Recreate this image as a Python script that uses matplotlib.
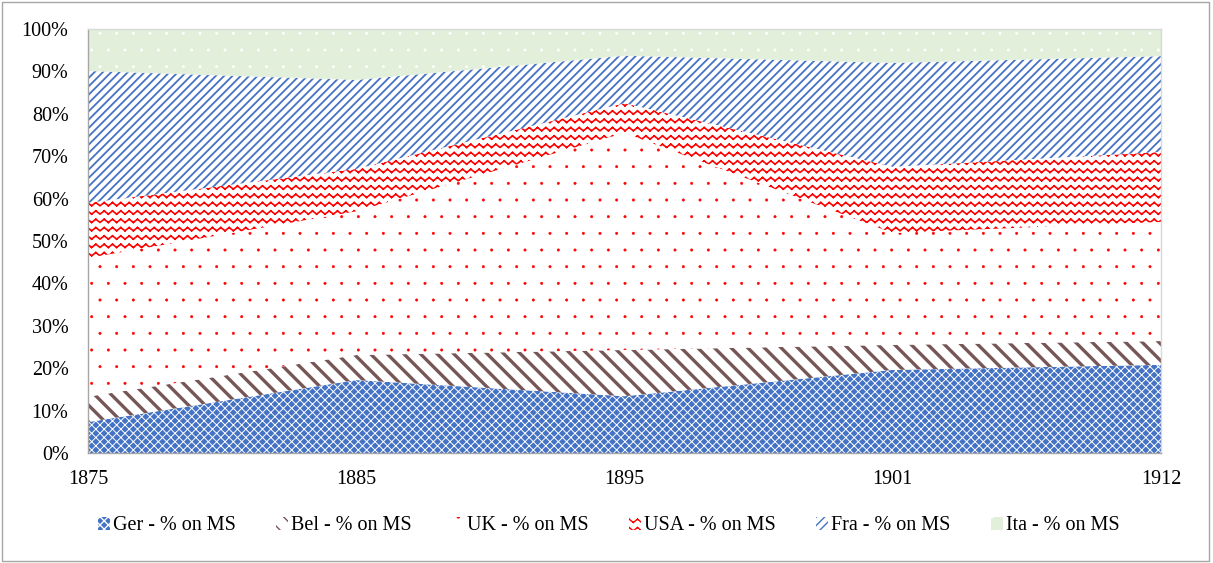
import warnings
warnings.filterwarnings("ignore")
import numpy as np
import matplotlib
matplotlib.use("Agg")
import matplotlib.pyplot as plt
import matplotlib.hatch as mhatch
from matplotlib.path import Path
from matplotlib.patches import Rectangle

# ---------------- data ----------------
years = ["1875", "1885", "1895", "1901", "1912"]
ger = [7.3, 17.2, 13.4, 19.6, 20.8]
bel = [6.0, 5.9, 10.9, 5.9, 5.6]
uk = [32.7, 33.9, 51.2, 26.4, 28.1]
usa = [13.0, 10.0, 7.0, 15.6, 16.5]
fra = [31.1, 21.0, 11.2, 24.5, 22.6]
ita = [9.9, 12.0, 6.3, 8.0, 6.4]
series_names = ["Ger - % on MS", "Bel - % on MS", "UK - % on MS",
                "USA - % on MS", "Fra - % on MS", "Ita - % on MS"]
y_ticks = [0, 10, 20, 30, 40, 50, 60, 70, 80, 90, 100]


# ------------- custom wave hatch ('~') -------------
class WaveHatch(mhatch.HatchPatternBase):
    periods = 12
    amp = 0.016

    def __init__(self, hatch, density):
        self.num_rows = hatch.count('~') * density
        self.nseg = 2 * self.periods
        self.num_vertices = self.num_rows * self.nseg * 2

    def set_vertices_and_codes(self, vertices, codes):
        xs = np.linspace(0, 1, self.nseg + 1)
        offs = np.where(np.arange(self.nseg + 1) % 2 == 0, -self.amp, self.amp)
        k = 0
        for i in range(self.num_rows):
            y0 = (i + 0.5) / self.num_rows
            for j in range(self.nseg):
                vertices[k] = (xs[j], y0 + offs[j])
                codes[k] = Path.MOVETO
                vertices[k + 1] = (xs[j + 1], y0 + offs[j + 1])
                codes[k + 1] = Path.LINETO
                k += 2


if WaveHatch not in mhatch._hatch_types:
    mhatch._hatch_types.append(WaveHatch)
mhatch.SmallFilledCircles.size = 0.07

plt.rcParams['font.family'] = ['Liberation Serif', 'DejaVu Serif']

fig = plt.figure(figsize=(12.13, 5.63), dpi=100)
ax = fig.add_axes([88 / 1213, 1 - 453 / 563, (1161 - 88) / 1213, (453 - 29) / 563])

x = np.arange(len(years))
data = [ger, bel, uk, usa, fra, ita]
styles = [
    dict(face="#4472C4", hatch="xxxx", hcolor="white", hlw=0.7),
    dict(face="white", hatch="\\\\", hcolor="#765656", hlw=2.4),
    dict(face="white", hatch=".", hcolor="#FF0000", hlw=0.4),
    dict(face="white", hatch="~~", hcolor="#FF0000", hlw=1.2),
    dict(face="white", hatch="////", hcolor="#4472C4", hlw=1.3),
    dict(face="#E2EFDA", hatch=".", hcolor="white", hlw=0.4),
]

arr = np.array(data, dtype=float)
arr = arr / arr.sum(axis=0) * 100
cum = np.vstack([np.zeros(len(years)), np.cumsum(arr, axis=0)])

handles = []
for i, (name, st) in enumerate(zip(series_names, styles)):
    with plt.rc_context({'hatch.linewidth': st['hlw']}):
        pc = ax.fill_between(x, cum[i], cum[i + 1], facecolor=st['face'],
                             edgecolor=st['hcolor'], linewidth=0,
                             hatch=st['hatch'], label=name)
    if hasattr(pc, "set_hatch_linewidth"):
        pc.set_hatch_linewidth(st['hlw'])
    handles.append(pc)

ax.set_xlim(0, len(years) - 1)
ax.set_ylim(0, 100)
ax.set_xticks(x)
ax.set_xticklabels(years)
ax.set_yticks(y_ticks)
ax.set_yticklabels([f"{v}%" for v in y_ticks])
ax.tick_params(axis='both', length=0, labelsize=14.5, colors='#000000')
ax.tick_params(axis='x', pad=12)
ax.tick_params(axis='y', pad=14)
for s in ax.spines.values():
    s.set_color('#D9D9D9')
    s.set_linewidth(1.0)
ax.spines['left'].set_color('#A6A6A6')
ax.spines['bottom'].set_color('#A6A6A6')

leg = fig.legend(handles=handles, loc='center', bbox_to_anchor=(0.502, 0.066),
                 ncol=6, frameon=False, fontsize=14.5, handlelength=0.6,
                 handleheight=0.6, handletextpad=0.15, columnspacing=2.0)

fig.patches.append(Rectangle((0.002, 0.003), 0.995, 0.993, transform=fig.transFigure,
                             fill=False, edgecolor='#A6A6A6', linewidth=1.0))

fig.savefig("out.png", dpi=100)
